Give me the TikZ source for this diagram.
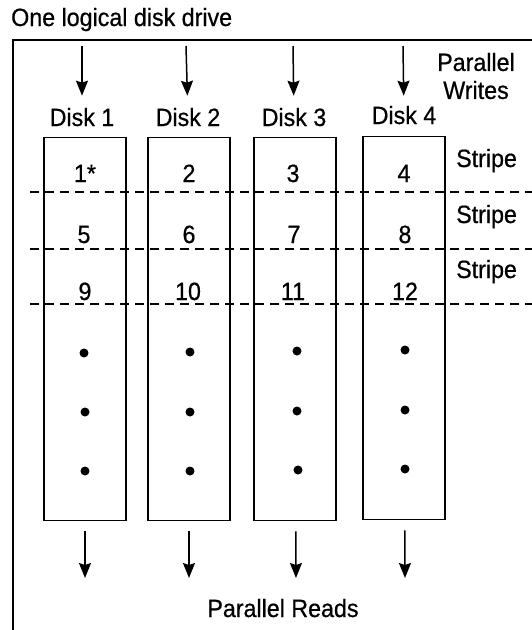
\documentclass[tikz,border=0pt]{standalone}
\usepackage{fontspec}
\setmainfont[FakeStretch=0.93,FakeBold=0.6]{Liberation Sans}
\usetikzlibrary{arrows.meta}

\begin{document}
\begin{tikzpicture}[x=1pt,y=-1pt,
        every node/.style={font=\fontsize{25}{28}\selectfont},
        disk/.style={draw,line width=1.8pt,minimum width=82pt,minimum height=383pt,inner sep=0pt},
        txt/.style={anchor=base,inner sep=0pt},
        blob/.style={circle,fill=black,minimum size=9pt,inner sep=0pt},
        arr/.style={line width=1.5pt,-{Stealth[length=15pt,width=12pt,inset=2pt]}},
        stripeline/.style={line width=1.5pt,dash pattern=on 9pt off 6pt}]
    \useasboundingbox (0,0) rectangle (532,630);

    % Frame of the logical drive
    \node[txt,anchor=base west] (title) at (11,26) {One logical disk drive};
    \draw[line width=2pt] (13,630) -- (13,40) -- (532,40);

    % Disks
    \node[disk] (box1) at (85,329) {};
    \node[disk] (box2) at (189,329) {};
    \node[disk] (box3) at (295,329) {};
    \node[disk] (box4) at (404,328) {};

    % Disk labels
    \node[txt] (lab1) at (82,126) {Disk 1};
    \node[txt] (lab2) at (188,126) {Disk 2};
    \node[txt] (lab3) at (294,126) {Disk 3};
    \node[txt] (lab4) at (404,124) {Disk 4};

    % Stripe boundaries
    \draw[stripeline] (30,192) -- (532,192);
    \draw[stripeline] (30,249) -- (532,249);
    \draw[stripeline] (30,304) -- (532,304);

    % Stripe 1
    \node[txt] (b1) at (85,182) {1*};
    \node[txt] (b2) at (189,182) {2};
    \node[txt] (b3) at (293,182) {3};
    \node[txt] (b4) at (404,182) {4};

    % Stripe 2
    \node[txt] (b5) at (84,243) {5};
    \node[txt] (b6) at (189,243) {6};
    \node[txt] (b7) at (294,243) {7};
    \node[txt] (b8) at (405,243) {8};

    % Stripe 3
    \node[txt] (b9) at (85,300) {9};
    \node[txt] (b10) at (188,300) {10};
    \node[txt] (b11) at (293,300) {11};
    \node[txt] (b12) at (405,300) {12};

    % Stripe labels
    \node[txt,anchor=base west] (st1) at (456,167) {Stripe};
    \node[txt,anchor=base west] (st2) at (456,223) {Stripe};
    \node[txt,anchor=base west] (st3) at (456,278) {Stripe};

    % Remaining blocks
    \node[blob] (d11) at (84,353) {};
    \node[blob] (d12) at (85,412) {};
    \node[blob] (d13) at (85,471) {};
    \node[blob] (d21) at (190,352) {};
    \node[blob] (d22) at (190,412) {};
    \node[blob] (d23) at (190,471) {};
    \node[blob] (d31) at (297,351) {};
    \node[blob] (d32) at (297,411) {};
    \node[blob] (d33) at (298,470) {};
    \node[blob] (d41) at (405,350) {};
    \node[blob] (d42) at (405,410) {};
    \node[blob] (d43) at (405,469) {};

    % Writes
    \node[align=center,inner sep=0pt] (writes) at (476,76) {Parallel\\Writes};
    \coordinate (in1) at (82,46);
    \coordinate (in2) at (186,46);
    \coordinate (in3) at (293,46);
    \coordinate (in4) at (403,46);
    \draw[arr,shorten >=12pt] (in1) -- (lab1);
    \draw[arr,shorten >=12pt] (in2) -- (lab2);
    \draw[arr,shorten >=12pt] (in3) -- (lab3);
    \draw[arr,shorten >=10pt] (in4) -- (lab4);

    % Reads
    \node[txt] (reads) at (283,617) {Parallel Reads};
    \coordinate (out1) at (85,578);
    \coordinate (out2) at (189,578);
    \coordinate (out3) at (296,578);
    \coordinate (out4) at (405,578);
    \draw[arr,shorten <=10pt] (box1) -- (out1);
    \draw[arr,shorten <=10pt] (box2) -- (out2);
    \draw[arr,shorten <=10pt] (box3) -- (out3);
    \draw[arr,shorten <=10pt] (box4) -- (out4);
\end{tikzpicture}
\end{document}
